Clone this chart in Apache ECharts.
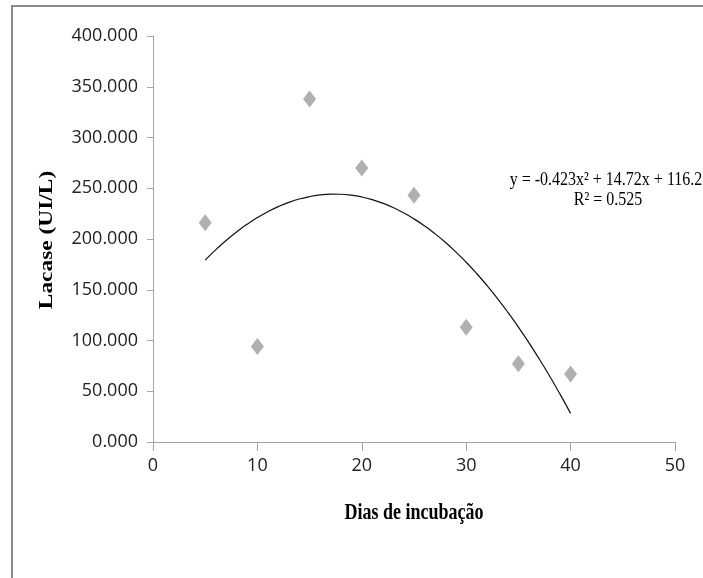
<!DOCTYPE html>
<html>
<head>
<meta charset="utf-8">
<title>Lacase x Dias de incubação</title>
<script src="https://cdn.jsdelivr.net/npm/echarts@6/dist/echarts.min.js"></script>
<style>
  html, body { margin: 0; padding: 0; background: #fff; }
  #chart { width: 703px; height: 578px; }
</style>
</head>
<body>
<div id="chart"></div>
<script>
// Measured laccase activity per incubation day
const days = [5, 10, 15, 20, 25, 30, 35, 40];
const lacase = [216, 94, 338, 270, 243, 113, 77, 67];

// Quadratic trend: y = a*x^2 + b*x + c
const trendCoef = [-0.423, 14.72, 116.2];
const trendR2 = 0.525;
const trendDays = [5, 6, 7, 8, 9, 10, 11, 12, 13, 14, 15, 16, 17, 18, 19, 20, 21, 22,
  23, 24, 25, 26, 27, 28, 29, 30, 31, 32, 33, 34, 35, 36, 37, 38, 39, 40];

const yTicks = [0, 50, 100, 150, 200, 250, 300, 350, 400];
const xTicks = [0, 10, 20, 30, 40, 50];

const xTitle = 'Dias de incubação';
const yTitle = 'Lacase (UI/L)';

const trendLine = trendDays.map(function (x) {
  return [x, trendCoef[0] * x * x + trendCoef[1] * x + trendCoef[2]];
});

const eqText = 'y = ' + trendCoef[0] + 'x² + ' + trendCoef[1] + 'x + ' + trendCoef[2];
const r2Text = 'R² = ' + trendR2;

const axisGray = '#a6a6a6';
const chart = echarts.init(document.getElementById('chart'), null, { renderer: 'canvas' });

chart.setOption({
  animation: false,
  backgroundColor: '#ffffff',
  grid: { left: 153, right: 28, top: 36, bottom: 136, containLabel: false },
  xAxis: {
    type: 'value',
    min: xTicks[0],
    max: xTicks[xTicks.length - 1],
    interval: 10,
    axisLine: { show: true, lineStyle: { color: axisGray, width: 1 } },
    axisTick: { show: true, length: 9, lineStyle: { color: axisGray } },
    axisLabel: { fontFamily: 'Open Sans', fontSize: 18, color: '#222', margin: 15 },
    splitLine: { show: false }
  },
  yAxis: {
    type: 'value',
    min: yTicks[0],
    max: yTicks[yTicks.length - 1],
    interval: 50,
    axisLine: { show: true, lineStyle: { color: axisGray, width: 1 } },
    axisTick: { show: true, length: 6, lineStyle: { color: axisGray } },
    axisLabel: {
      fontFamily: 'Open Sans', fontSize: 18, color: '#222', margin: 15,
      formatter: function (v) { return v.toFixed(3); }
    },
    splitLine: { show: false }
  },
  graphic: [
    {
      // outer chart frame
      type: 'rect',
      shape: { x: 12, y: 6, width: 800, height: 700 },
      style: { fill: 'none', stroke: '#8c8c8c', lineWidth: 2 },
      silent: true
    },
    {
      // x axis title
      type: 'text',
      x: 414, y: 513,
      scaleY: 1.25,
      style: {
        text: xTitle, x: 0, y: 0, align: 'center', verticalAlign: 'middle',
        fontFamily: 'Liberation Serif', fontWeight: 'bold', fontSize: 18, fill: '#000'
      }
    },
    {
      // y axis title, rotated and stretched along its length
      type: 'text',
      x: 47, y: 240,
      rotation: Math.PI / 2,
      scaleX: 1.3,
      style: {
        text: yTitle, x: 0, y: 0, align: 'center', verticalAlign: 'middle',
        fontFamily: 'Liberation Serif', fontWeight: 'bold', fontSize: 18, fill: '#000'
      }
    },
    {
      type: 'text',
      x: 606, y: 180,
      scaleY: 1.2,
      style: {
        text: eqText, x: 0, y: 0, align: 'center', verticalAlign: 'middle',
        fontFamily: 'Liberation Serif', fontSize: 16, fill: '#000'
      }
    },
    {
      type: 'text',
      x: 608, y: 200,
      scaleY: 1.2,
      style: {
        text: r2Text, x: 0, y: 0, align: 'center', verticalAlign: 'middle',
        fontFamily: 'Liberation Serif', fontSize: 16, fill: '#000'
      }
    }
  ],
  series: [
    {
      name: 'Lacase',
      type: 'scatter',
      symbol: 'diamond',
      symbolSize: [13, 17],
      itemStyle: { color: '#9c9c9c' },
      data: days.map(function (d, i) { return [d, lacase[i]]; }),
      z: 3
    },
    {
      name: 'Polinomial',
      type: 'line',
      data: trendLine,
      showSymbol: false,
      smooth: true,
      lineStyle: { color: '#111', width: 1.2 },
      z: 2
    }
  ]
});
</script>
</body>
</html>
